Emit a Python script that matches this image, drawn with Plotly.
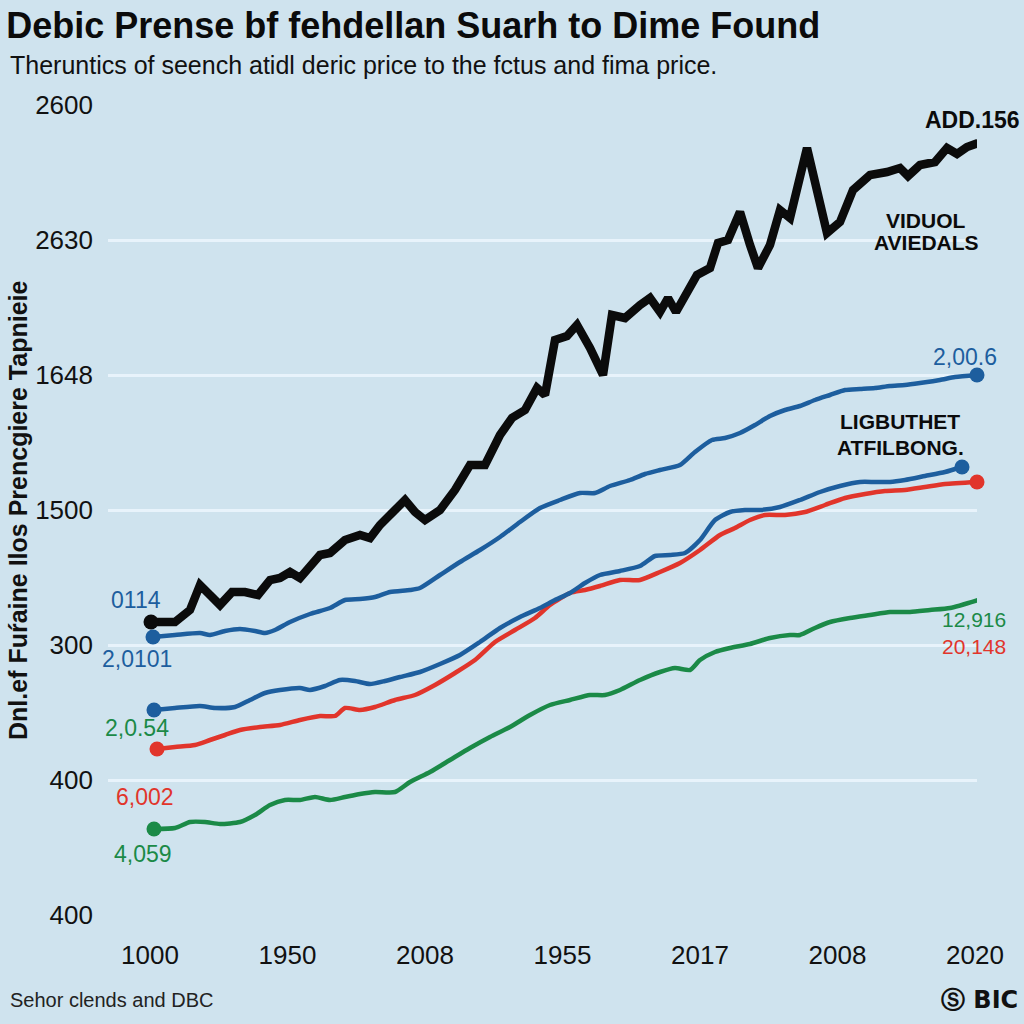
import plotly.graph_objects as go

# ---------------- data ----------------
x_ticks = [0, 137.5, 275, 412.5, 550, 687.5, 825]
x_tick_labels = ["1000", "1950", "2008", "1955", "2017", "2008", "2020"]
y_ticks = [0, 135, 270, 405, 540, 675, 810]
y_tick_labels = ["400", "400", "300", "1500", "1648", "2630", "2600"]

black_x = [1, 25, 40, 50, 60, 70, 82, 95, 108, 120, 130, 140, 150, 160, 170, 180, 195, 210, 220, 230,
           245, 255, 265, 275, 290, 305, 320, 335, 350, 362, 375, 387, 395, 405, 417, 427, 440, 453, 462,
           475, 490, 500, 510, 518, 526, 535, 547, 560, 568, 578, 590, 600, 608, 620, 630, 640, 657, 677,
           690, 703, 720, 737, 750, 758, 770, 785, 797, 807, 817, 828]
black_y = [293, 293, 305, 330, 320, 310, 323, 323, 320, 335, 337, 343, 337, 347, 360, 362, 375, 380, 377, 390,
           405, 415, 403, 395, 405, 425, 450, 450, 480, 497, 505, 527, 520, 575, 579, 590, 567, 540, 600,
           597, 610, 617, 603, 617, 603, 620, 640, 647, 672, 675, 703, 670, 647, 670, 705, 697, 767, 682,
           693, 725, 740, 743, 747, 739, 750, 753, 767, 761, 768, 772]

blue1_x = [3, 25, 50, 60, 75, 90, 105, 115, 125, 140, 160, 180, 195, 210, 225, 240, 260, 270, 290, 310,
           330, 350, 370, 390, 410, 430, 445, 460, 480, 495, 510, 530, 545, 562, 575, 590, 605, 620, 635,
           650, 665, 680, 695, 710, 725, 740, 755, 770, 790, 805, 827]
blue1_y = [278, 280, 282, 280, 284, 286, 284, 282, 285, 293, 301, 307, 315, 316, 318, 323, 325, 327, 340, 353,
           365, 378, 393, 407, 415, 422, 422, 429, 435, 441, 445, 450, 463, 475, 477, 482, 490, 499, 505,
           509, 515, 520, 525, 526, 527, 529, 530, 532, 535, 538, 540]

blue2_x = [4, 25, 50, 65, 85, 100, 115, 130, 150, 160, 175, 190, 205, 220, 235, 250, 270, 290, 310, 330,
           350, 370, 390, 405, 420, 435, 450, 470, 490, 505, 520, 535, 550, 565, 580, 595, 610, 630, 650,
           670, 690, 710, 725, 740, 755, 775, 795, 812]
blue2_y = [205, 207, 209, 207, 208, 215, 222, 225, 227, 225, 229, 235, 234, 231, 234, 238, 243, 251, 260, 273,
           287, 298, 307, 315, 322, 332, 340, 344, 349, 359, 360, 362, 375, 395, 403, 405, 405, 408, 415,
           423, 429, 433, 433, 433, 435, 439, 443, 448]

red_x = [7, 25, 45, 60, 75, 90, 110, 130, 150, 170, 185, 195, 210, 225, 245, 265, 285, 305, 325, 345,
         365, 385, 400, 420, 435, 450, 470, 490, 510, 530, 550, 570, 585, 600, 615, 635, 655, 675, 695,
         715, 735, 755, 775, 795, 827]
red_y = [166, 168, 170, 175, 180, 185, 188, 190, 195, 199, 199, 207, 205, 208, 215, 220, 230, 242, 255, 273,
         285, 297, 310, 322, 325, 329, 335, 335, 343, 352, 365, 380, 387, 395, 400, 400, 403, 410, 417,
         421, 424, 425, 428, 431, 433]

green_x = [4, 25, 40, 55, 70, 90, 105, 120, 135, 150, 165, 180, 195, 210, 225, 245, 260, 280, 300, 320,
           340, 360, 380, 400, 420, 440, 455, 470, 490, 510, 525, 540, 550, 565, 580, 600, 620, 640, 650,
           665, 680, 700, 720, 740, 760, 780, 800, 828]
green_y = [86, 87, 93, 93, 91, 93, 100, 110, 115, 115, 118, 115, 118, 121, 123, 123, 133, 143, 155, 167,
           178, 188, 200, 210, 215, 220, 220, 225, 235, 243, 247, 245, 255, 263, 267, 271, 277, 280, 280,
           287, 293, 297, 300, 303, 303, 305, 307, 315]

# value labels: (text, x, y, colour key)
value_labels = [
    ("ADD.156", 822, 795, "black"),
    ("2,00.6", 815, 558, "blue"),
    (".50", 840, 455, "blue"),
    ("8,035", 830, 412, "red"),
    ("0114", -14, 315, "blue"),
    ("2,0101", -13, 256, "blue"),
    ("2,0.54", -13, 187, "green"),
    ("6,002", -5, 118, "red"),
    ("4,059", -7, 61, "green"),
]
# a two-line label (upper text, colour, lower text, colour, x, y) at the right end of the green line
stacked_label = ("12,916", "green", "20,148", "red", 824, 282)
bold_labels = [
    ("VIDUOL", 776, 695),
    ("AVIEDALS", 776, 673),
    ("LIGBUTHET", 750, 494),
    ("ATFILBONG.", 750, 468),
]

title_text = "Debic Prense bf fehdellan Suarh to Dime Found"
subtitle_text = "Theruntics of seench atidl deric price to the fctus and fima price."
y_title_text = "Dnl.ef Fuŕaine Ilos Prencgiere Tapnieie"
source_text = "Sehor clends and DBC"
logo_text = "Ⓢ BIC"

# ---------------- styling ----------------
BG = "#cfe3ee"
COL = {"black": "#0b0b0b", "blue": "#1d5e9e", "red": "#e1352b", "green": "#1b8a47"}
FONT = "Liberation Sans, Arial, sans-serif"

fig = go.Figure()

def add_series(xs, ys, colour, width, msize, shape):
    fig.add_trace(go.Scatter(
        x=xs, y=ys, mode="lines",
        line=dict(color=colour, width=width, shape=shape, smoothing=0.6),
        hoverinfo="skip", showlegend=False, cliponaxis=False))
    fig.add_trace(go.Scatter(
        x=[xs[0], xs[-1]], y=[ys[0], ys[-1]], mode="markers",
        marker=dict(color=colour, size=msize), hoverinfo="skip",
        showlegend=False, cliponaxis=False))

add_series(green_x, green_y, COL["green"], 4.5, 15, "spline")
add_series(red_x, red_y, COL["red"], 4.5, 15, "spline")
add_series(blue2_x, blue2_y, COL["blue"], 4.5, 15, "spline")
add_series(blue1_x, blue1_y, COL["blue"], 4.5, 15, "spline")
add_series(black_x, black_y, COL["black"], 8.5, 15, "linear")

annotations = []
for text, x, y, c in value_labels:
    bold = c == "black"
    annotations.append(dict(
        x=x, y=y, xref="x", yref="y", text=text, showarrow=False,
        font=dict(family=FONT, size=23,
                  color=COL[c], weight="bold" if bold else "normal")))
t1, c1, t2, c2, sx, sy = stacked_label
annotations.append(dict(
    x=sx, y=sy, xref="x", yref="y", showarrow=False,
    text=f"<span style='color:{COL[c1]}'>{t1}</span><br><span style='color:{COL[c2]}'>{t2}</span>",
    font=dict(family=FONT, size=21)))
for text, x, y in bold_labels:
    annotations.append(dict(
        x=x, y=y, xref="x", yref="y", text=text, showarrow=False,
        font=dict(family=FONT, size=21, color="#0b0b0b", weight="bold")))

annotations += [
    dict(x=-0.1151, y=1.0494, xref="paper", yref="paper", xanchor="left", yanchor="middle",
         text=subtitle_text, showarrow=False, font=dict(family=FONT, size=25, color="#111111")),
    dict(x=-0.1036, y=0.5, xref="paper", yref="paper", textangle=-90, xanchor="center",
         yanchor="middle", text=y_title_text, showarrow=False,
         font=dict(family=FONT, size=25, color="#111111", weight="bold")),
    dict(x=-0.1151, y=-0.1049, xref="paper", yref="paper", xanchor="left", yanchor="middle",
         text=source_text, showarrow=False, font=dict(family=FONT, size=20, color="#222222")),
    dict(x=1.0495, y=-0.1049, xref="paper", yref="paper", xanchor="right", yanchor="middle",
         text=logo_text, showarrow=False,
         font=dict(family="DejaVu Sans, Liberation Sans", size=24, color="#111111", weight="bold")),
]

fig.update_layout(
    width=1024, height=1024,
    paper_bgcolor=BG, plot_bgcolor=BG,
    margin=dict(l=108, r=47, t=105, b=109),
    title=dict(text=title_text, x=0.006, xref="container", xanchor="left",
               y=0.975, yref="container", yanchor="middle",
               font=dict(family=FONT, size=36, color="#0b0b0b", weight="bold")),
    annotations=annotations,
    xaxis=dict(range=[-42, 827], tickvals=x_ticks, ticktext=x_tick_labels,
               showgrid=False, zeroline=False, showline=False, ticks="",
               ticklabelstandoff=22,
               tickfont=dict(family=FONT, size=26, color="#111111")),
    yaxis=dict(range=[0, 810], tickvals=y_ticks, ticktext=y_tick_labels,
               showgrid=True, gridcolor="#e8f3fb", gridwidth=3, zeroline=False,
               showline=False, ticks="", ticklabelstandoff=14,
               tickfont=dict(family=FONT, size=26, color="#111111")),
)

fig.write_html("out.html", config={"displayModeBar": False},
               post_script="document.body.style.margin='0';document.body.style.overflow='hidden';")
